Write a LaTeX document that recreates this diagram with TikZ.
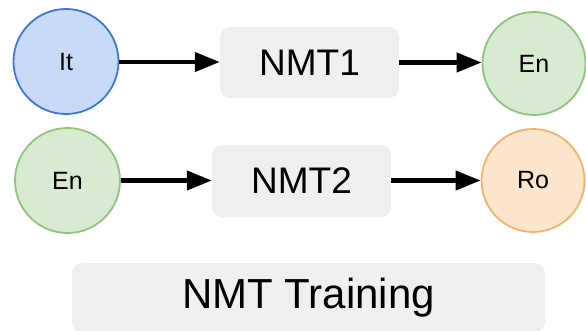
\documentclass[tikz,border=0pt]{standalone}
\usepackage{fontspec}
\setmainfont{Liberation Sans}
\usetikzlibrary{arrows.meta}
\definecolor{bluefill}{HTML}{C9DAF8}
\definecolor{bluedraw}{HTML}{3C78D8}
\definecolor{greenfill}{HTML}{D9EAD3}
\definecolor{greendraw}{HTML}{93C47D}
\definecolor{orangefill}{HTML}{FCE5CD}
\definecolor{orangedraw}{HTML}{F6B26B}
\definecolor{boxgray}{HTML}{EFEFEF}
\tikzset{
  lang/.style={circle, minimum size=105pt, inner sep=0pt, line width=1.8pt, font=\fontsize{25}{30}\selectfont},
  nmtbox/.style={rounded corners=10pt, fill=boxgray, inner sep=0pt, font=\fontsize{37}{44}\selectfont},
  flow/.style={line width=4.2pt, -{Triangle[length=25pt,width=19pt]}}
}
\begin{document}
\begin{tikzpicture}[x=1pt,y=-1pt]
\useasboundingbox (0,0) rectangle (586,331);
\node[lang, fill=bluefill, draw=bluedraw] (it) at (66,61.5) {It};
\node[nmtbox, minimum width=179pt, minimum height=71pt] (nmt1) at (309.5,62.5) {NMT1};
\node[lang, fill=greenfill, draw=greendraw, minimum size=103pt] (en1) at (534,63.5) {En};
\node[lang, fill=greenfill, draw=greendraw] (en2) at (67.5,180.5) {En};
\node[nmtbox, minimum width=179pt, minimum height=72pt] (nmt2) at (301.5,181) {NMT2};
\node[lang, fill=orangefill, draw=orangedraw, minimum size=103pt] (ro) at (533,180.5) {Ro};
\node[nmtbox, minimum width=473pt, minimum height=69pt, font=\fontsize{42}{50}\selectfont] (train) at (308.5,297.5) {NMT Training};
\draw[flow] (it.east |- 0,62) -- (nmt1.west |- 0,62);
\draw[flow] (nmt1.east |- 0,62.5) -- (en1.west |- 0,62.5);
\draw[flow] (en2.east |- 0,180.5) -- (nmt2.west |- 0,180.5);
\draw[flow] (nmt2.east |- 0,180.5) -- (ro.west |- 0,180.5);
\end{tikzpicture}
\end{document}
